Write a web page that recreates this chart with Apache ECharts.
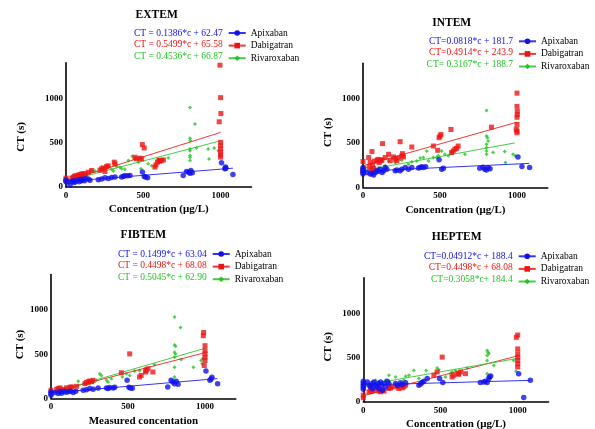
<!DOCTYPE html>
<html>
<head>
<meta charset="utf-8">
<script src="https://cdn.jsdelivr.net/npm/echarts@6/dist/echarts.min.js"></script>
<style>
  html, body { margin: 0; padding: 0; background: #fff; }
  #main { width: 595px; height: 429px; }
</style>
</head>
<body>
<div id="main"></div>
<script>
// 数据: [浓度, CT]
const extemApixaban = [[0,75],[0,60],[15,55],[26,19],[40,60],[47,70],[55,50],[62,65],[77,80],[85,60],[94,88],[100,70],[109,82],[120,70],[124,92],[144,90],[155,75],[209,82],[230,90],[252,104],[274,97],[295,108],[317,112],[360,112],[371,120],[381,127],[398,127],[414,130],[494,168],[506,119],[515,112],[528,104],[758,130],[780,175],[795,165],[802,155],[808,185],[817,160],[1006,272],[1028,205],[1032,225],[1034,212],[1080,142]];
const extemDabigatran = [[0,100],[0,80],[37,100],[47,108],[54,120],[62,127],[77,134],[88,138],[99,145],[110,150],[116,134],[127,150],[144,167],[166,186],[220,190],[230,205],[241,216],[252,175],[263,232],[273,238],[312,280],[317,260],[446,335],[457,317],[478,325],[490,317],[494,478],[506,440],[575,225],[582,250],[592,280],[601,300],[608,290],[618,300],[630,305],[996,1373],[1000,1007],[1002,828],[991,735],[1000,504],[1000,466],[1000,430],[1000,392],[1000,362],[1000,336]];
const extemRivaroxaban = [[4,82],[58,93],[101,105],[134,120],[166,187],[187,179],[241,205],[252,215],[274,225],[295,200],[306,180],[327,231],[349,223],[360,205],[381,200],[403,299],[429,347],[446,317],[468,280],[485,205],[532,261],[554,240],[575,225],[597,317],[662,328],[802,896],[802,549],[804,522],[802,429],[802,410],[802,354],[802,336],[802,299],[834,709],[845,440],[920,429],[925,317],[959,440],[985,410]];

const intemApixaban = [[0,224],[0,205],[0,187],[0,168],[0,149],[26,168],[47,149],[58,157],[69,140],[80,168],[90,187],[101,180],[112,205],[124,168],[134,187],[144,224],[155,205],[209,187],[220,194],[241,187],[252,205],[274,224],[295,205],[317,224],[360,217],[371,224],[381,231],[392,224],[407,231],[494,310],[511,205],[522,216],[758,216],[780,225],[791,205],[802,194],[813,220],[825,210],[1006,343],[1032,235],[1082,224]];
const intemDabigatran = [[0,291],[0,187],[37,336],[41,231],[47,280],[54,205],[58,403],[62,250],[69,213],[75,295],[90,300],[97,315],[105,280],[112,300],[116,310],[123,305],[127,493],[144,336],[166,373],[177,300],[198,343],[209,317],[220,300],[230,330],[241,515],[252,354],[256,380],[263,343],[317,455],[457,466],[485,418],[494,560],[500,578],[506,597],[571,653],[575,392],[586,410],[597,430],[608,440],[618,466],[834,679],[1000,1063],[1000,914],[1002,858],[1002,820],[1000,791],[1000,709],[995,653],[1000,634],[1000,616]];
const intemRivaroxaban = [[15,224],[58,205],[101,220],[144,243],[166,298],[209,280],[252,306],[295,261],[317,285],[349,298],[371,330],[392,336],[414,410],[425,298],[457,336],[478,336],[489,355],[511,410],[532,373],[554,355],[575,390],[662,373],[802,866],[802,578],[808,560],[813,522],[802,485],[802,448],[802,410],[802,373],[845,392],[920,403],[925,280],[974,373],[989,355]];

const fibtemApixaban = [[0,75],[0,56],[0,37],[26,67],[47,56],[58,75],[69,60],[80,82],[97,70],[112,75],[127,82],[144,67],[161,82],[209,93],[230,100],[252,112],[274,104],[306,119],[360,119],[371,112],[381,123],[403,119],[414,127],[494,205],[506,127],[515,119],[528,116],[758,130],[780,205],[791,187],[802,168],[813,194],[825,160],[1006,310],[1032,205],[1039,220],[1045,239],[1082,168]];
const fibtemDabigatran = [[0,93],[37,104],[47,112],[58,120],[80,104],[101,120],[123,127],[134,131],[166,138],[220,168],[230,180],[241,190],[252,198],[263,190],[273,205],[457,291],[511,504],[575,243],[586,261],[614,299],[618,317],[630,336],[662,299],[989,709],[991,746],[1000,597],[1000,541],[1000,504],[1000,466],[1000,429],[995,373]];
const fibtemRivaroxaban = [[4,75],[58,93],[101,112],[144,131],[177,194],[252,168],[274,187],[295,205],[317,280],[327,261],[360,205],[371,187],[392,224],[463,243],[489,280],[511,261],[543,310],[575,317],[608,336],[672,380],[802,922],[802,604],[809,590],[802,522],[809,504],[802,466],[802,354],[802,243],[841,802],[845,440],[925,354],[974,429],[985,448],[981,392]];

const heptemApixaban = [[0,231],[0,205],[0,187],[0,164],[0,142],[26,224],[37,187],[47,168],[58,205],[62,149],[69,224],[80,187],[90,168],[97,205],[101,149],[112,224],[118,187],[123,130],[134,205],[144,168],[155,231],[166,205],[209,205],[220,187],[241,213],[252,194],[274,213],[360,187],[371,200],[381,216],[392,231],[414,261],[494,261],[515,216],[758,216],[780,224],[791,231],[802,216],[813,261],[817,280],[825,291],[1006,317],[1039,48],[1082,243]];
const heptemDabigatran = [[0,75],[0,45],[37,112],[47,131],[58,120],[80,131],[101,120],[112,112],[123,131],[134,120],[166,149],[177,157],[187,168],[220,168],[230,149],[241,187],[252,157],[263,168],[274,187],[457,299],[478,336],[511,504],[575,280],[586,299],[614,317],[618,310],[630,336],[662,317],[991,728],[1000,754],[1000,597],[1000,541],[1000,504],[1000,466],[1000,429],[1000,392]];
const heptemRivaroxaban = [[15,205],[47,187],[80,243],[101,224],[144,243],[166,298],[209,280],[263,243],[274,287],[295,300],[327,354],[360,261],[381,224],[407,354],[478,380],[489,362],[532,280],[565,317],[575,336],[597,354],[672,380],[802,578],[808,560],[813,545],[802,522],[802,466],[802,317],[845,410],[974,466],[989,343]];

// 回归线端点
const extemFit = [[[0,62.5],[1080,212.2]], [[0,65.6],[1000,615.5]], [[0,66.9],[1000,520.5]]];
const intemFit = [[[0,181.7],[1080,270.1]], [[0,243.9],[1000,735.3]], [[0,188.7],[985,500.6]]];
const fibtemFit = [[[0,63.0],[1080,224.9]], [[0,68.1],[1000,517.9]], [[0,62.9],[1000,567.4]]];
const heptemFit = [[[0,188.4],[1080,241.4]], [[0,68.1],[1000,517.9]], [[0,184.4],[990,487.1]]];

// 文字
const drugNames = ['Apixaban', 'Dabigatran', 'Rivaroxaban'];
const titles = ['EXTEM', 'INTEM', 'FIBTEM', 'HEPTEM'];
const xNames = ['Concentration (μg/L)', 'Concentration (μg/L)', 'Measured concentation', 'Concentration (μg/L)'];
const equations = [
  ['CT = 0.1386*c + 62.47', 'CT = 0.5499*c + 65.58', 'CT = 0.4536*c + 66.87'],
  ['CT=0.0818*c + 181.7', 'CT=0.4914*c + 243.9', 'CT= 0.3167*c + 188.7'],
  ['CT = 0.1499*c + 63.04', 'CT = 0.4498*c + 68.08', 'CT = 0.5045*c + 62.90'],
  ['CT=0.04912*c + 188.4', 'CT=0.4498*c + 68.08', 'CT=0.3058*c+ 184.4'],
];
const xTicks = [0, 500, 1000];
const yTicks = [0, 500, 1000];

const panelData = [
  [extemApixaban, extemDabigatran, extemRivaroxaban],
  [intemApixaban, intemDabigatran, intemRivaroxaban],
  [fibtemApixaban, fibtemDabigatran, fibtemRivaroxaban],
  [heptemApixaban, heptemDabigatran, heptemRivaroxaban],
];
const panelFits = [extemFit, intemFit, fibtemFit, heptemFit];

// 布局
const FONT = 'Liberation Serif';
const colors = ['#1212ee', '#ee1515', '#24c424'];
const symbols = ['circle', 'rect', 'diamond'];
const symbolSizes = [5.5, 5, 4];
const layout = [
  { left: 66, top: 62.8, width: 185.5, height: 124.2, titleX: 156.7, titleY: 15.7, legX: 227.7, rowY: 33, yGap: 39, yShift: 12 },
  { left: 363, top: 63.3, width: 184.8, height: 124, titleX: 451.7, titleY: 23.3, legX: 518, rowY: 41.3, yGap: 29, yShift: 7 },
  { left: 51, top: 274.6, width: 184.8, height: 123.9, titleX: 143.3, titleY: 235.7, legX: 211.7, rowY: 254, yGap: 24.5, yShift: 8 },
  { left: 363.3, top: 277.9, width: 185.3, height: 123.8, titleX: 456.7, titleY: 237.7, legX: 517.7, rowY: 256.3, yGap: 29.5, yShift: 7 },
];
const ROW = 11.6;

const option = {
  animation: false,
  backgroundColor: '#fff',
  title: [], grid: [], xAxis: [], yAxis: [], legend: [], series: [],
  graphic: [],
};

layout.forEach((g, i) => {
  option.title.push({
    text: titles[i], left: g.titleX, top: g.titleY - 6.5, textAlign: 'center', padding: 0,
    textStyle: { fontFamily: FONT, fontWeight: 'bold', fontSize: 11.5, color: '#000' },
  });
  option.grid.push({ left: g.left, top: g.top, width: g.width, height: g.height, outerBoundsMode: 'none' });
  const axisBase = {
    gridIndex: i, type: 'value', min: 0, splitLine: { show: false },
    axisLine: { onZero: false, lineStyle: { color: '#000', width: 1.6 } },
    axisTick: { show: false },
    nameLocation: 'middle',
  };
  option.xAxis.push(Object.assign({}, axisBase, {
    max: 1200, interval: 500,
    name: xNames[i], nameGap: 17,
    nameTextStyle: { fontFamily: FONT, fontWeight: 'bold', fontSize: 11, color: '#000', verticalAlign: 'top' },
    axisLabel: { customValues: xTicks, formatter: v => String(v), margin: 4, fontFamily: FONT, fontWeight: 'bold', fontSize: 9, color: '#000' },
  }));
  option.yAxis.push(Object.assign({}, axisBase, {
    max: 1400, interval: 500,
    name: 'CT (s)', nameGap: g.yGap,
    nameTextStyle: { fontFamily: FONT, fontWeight: 'bold', fontSize: 11, color: '#000', padding: [0, g.yShift * 2, 0, 0] },
    axisLabel: { customValues: yTicks, formatter: v => String(v), margin: 3, fontFamily: FONT, fontWeight: 'bold', fontSize: 9, color: '#000' },
  }));
  option.legend.push({
    orient: 'vertical', left: g.legX, top: g.rowY - 5, padding: 0,
    itemWidth: 17, itemHeight: 7, itemGap: ROW - 9, selectedMode: false,
    data: drugNames,
    textStyle: { fontFamily: FONT, fontSize: 9.5, color: '#000' },
  });
  drugNames.forEach((name, k) => {
    // 拟合线 (图例图标也取自此系列)
    option.series.push({
      type: 'line', name: name, xAxisIndex: i, yAxisIndex: i,
      data: panelFits[i][k], showSymbol: false, symbol: symbols[k], symbolSize: 5,
      color: colors[k], lineStyle: { width: 1, color: colors[k], opacity: 0.85 },
      silent: true, z: 3,
    });
  });
  drugNames.forEach((name, k) => {
    option.series.push({
      type: 'scatter', name: name + ' data', xAxisIndex: i, yAxisIndex: i,
      data: panelData[i][k], symbol: symbols[k], symbolSize: symbolSizes[k],
      itemStyle: { color: colors[k] }, z: 2 + (2 - k),
    });
    option.graphic.push({
      type: 'text', x: g.legX - 5, y: g.rowY + k * ROW,
      style: { text: equations[i][k], align: 'right', verticalAlign: 'middle',
        font: '9.5px ' + FONT, fill: colors[k] },
    });
  });
});

const myChart = echarts.init(document.getElementById('main'), null, { renderer: 'canvas' });
myChart.setOption(option);
</script>
</body>
</html>
